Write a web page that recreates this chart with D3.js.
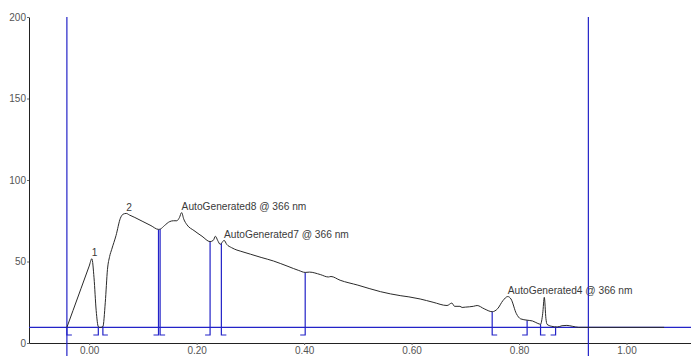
<!DOCTYPE html>
<html>
<head>
<meta charset="utf-8">
<script src="https://cdn.jsdelivr.net/npm/d3@7"></script>
<style>
  body { margin: 0; background: #fff; }
  svg { display: block; font-family: "Liberation Sans", Arial, sans-serif; }
</style>
</head>
<body>
<div id="chart"></div>
<script>
// trace (retention time in min, absorbance)
const traceTime = [-0.0415, -0.030, -0.015, 0.000, 0.005, 0.009, 0.013, 0.017, 0.020, 0.0255,
  0.030, 0.034, 0.038, 0.042, 0.050, 0.058, 0.063, 0.069, 0.075, 0.085,
  0.100, 0.115, 0.129, 0.133, 0.140, 0.150, 0.157, 0.163, 0.168, 0.172,
  0.176, 0.182, 0.195, 0.210, 0.225, 0.231, 0.235, 0.239, 0.244, 0.248,
  0.251, 0.256, 0.265, 0.275, 0.281, 0.290, 0.300, 0.320, 0.343, 0.370,
  0.390, 0.402, 0.410, 0.430, 0.445, 0.450, 0.467, 0.500, 0.542, 0.580,
  0.595, 0.616, 0.640, 0.666, 0.675, 0.680, 0.690, 0.694, 0.700, 0.715,
  0.722, 0.735, 0.750, 0.760, 0.770, 0.779, 0.785, 0.795, 0.803, 0.815,
  0.825, 0.835, 0.840, 0.844, 0.847, 0.850, 0.852, 0.860, 0.871, 0.880,
  0.889, 0.900, 0.911, 1.070];
const traceValue = [9.6, 20.0, 33.6, 47.2, 51.7, 40, 20, 10, 9.5, 10,
  25, 45, 53, 57.5, 66, 76.5, 79, 79.5, 78.5, 77,
  74.5, 72, 69.7, 70, 72, 74.5, 75, 75, 77, 80,
  76, 72.5, 69, 65.5, 62.2, 63, 65.5, 63, 60.5, 62,
  63, 60.5, 58.5, 57, 56.4, 55.5, 54.5, 52.5, 50.3, 47,
  44.5, 43.3, 43.5, 42, 40.5, 40.8, 38.5, 35.5, 31.5, 29,
  28.3, 27, 25, 23, 24.5, 22.5, 22.5, 21.8, 22, 22.5,
  23, 21, 19.2, 21, 26, 28.5, 27, 18, 14.8, 14,
  13.5, 12, 11.5, 18, 28, 15, 11.5, 10.3, 9.8, 10.6,
  10.8, 10.2, 9.6, 9.6];

// integration
const peakStart = [-0.0415, 0.0255, 0.132, 0.246, 0.750, 0.840];
const peakEnd = [0.017, 0.129, 0.225, 0.402, 0.815, 0.868];
const peakApex = [0.005, 0.069, 0.172, 0.251, 0.779, 0.847];
const peakNames = ["1", "2", "AutoGenerated8 @ 366 nm", "AutoGenerated7 @ 366 nm", "AutoGenerated4 @ 366 nm", ""];
const baselineValue = 9.6;
const bracketValue = 4.9;
const windowStart = -0.0415;
const windowEnd = 0.929;

const xTicks = [0, 0.2, 0.4, 0.6, 0.8, 1.0];
const yTicks = [0, 50, 100, 150, 200];

const W = 691, H = 356;
const margin = { top: 17, right: 0, bottom: 13, left: 29 };

const svg = d3.select("#chart").append("svg")
  .attr("width", W)
  .attr("height", H);

const x = d3.scaleLinear().domain([-0.112, 1.12]).range([margin.left, W - margin.right]);
const y = d3.scaleLinear().domain([0, 200]).range([H - margin.bottom, margin.top]);

const blue = "#2323c8";
const valueAt = t => {
  const i = d3.bisectLeft(traceTime, t);
  if (i <= 0) return traceValue[0];
  if (i >= traceTime.length) return traceValue[traceValue.length - 1];
  const t0 = traceTime[i - 1], t1 = traceTime[i];
  const k = (t - t0) / (t1 - t0);
  return traceValue[i - 1] + k * (traceValue[i] - traceValue[i - 1]);
};

// axes
const xAxis = svg.append("g")
  .attr("transform", `translate(0,${y(0)})`)
  .call(d3.axisBottom(x).tickValues(xTicks).tickFormat(d3.format(".2f")).tickSize(2).tickPadding(2).tickSizeOuter(0));
const yAxis = svg.append("g")
  .attr("transform", `translate(${margin.left},0)`)
  .call(d3.axisLeft(y).tickValues(yTicks).tickSize(2).tickPadding(1).tickSizeOuter(0));
[xAxis, yAxis].forEach(g => {
  g.select(".domain").attr("stroke", "#222");
  g.selectAll(".tick line").attr("stroke", "#666");
  g.selectAll("text").attr("fill", "#555").attr("font-size", "10px").attr("font-family", "Liberation Sans, Arial, sans-serif");
});

// peak labels (under trace)
svg.append("g").selectAll("text")
  .data(peakNames.map((n, i) => ({ n, t: peakApex[i] })).filter(d => d.n))
  .enter().append("text")
  .attr("x", d => x(d.t))
  .attr("y", d => y(valueAt(d.t)) - 2.5)
  .attr("font-size", "10.2px")
  .attr("fill", "#3a3a3a")
  .text(d => d.n);

// baseline
svg.append("line")
  .attr("x1", margin.left).attr("x2", W)
  .attr("y1", y(baselineValue)).attr("y2", y(baselineValue))
  .attr("stroke", blue).attr("stroke-width", 1.2);

// window lines
svg.selectAll(".win")
  .data([windowStart, windowEnd])
  .enter().append("line")
  .attr("x1", d => x(d)).attr("x2", d => x(d))
  .attr("y1", y(200)).attr("y2", H)
  .attr("stroke", blue).attr("stroke-width", 1.2);

// drop lines with brackets
const drops = [];
peakStart.forEach(t => drops.push({ t, dir: 1 }));
peakEnd.forEach(t => drops.push({ t, dir: -1 }));
const dropG = svg.append("g").attr("stroke", blue).attr("fill", "none").attr("stroke-width", 1.2);
dropG.selectAll("path")
  .data(drops)
  .enter().append("path")
  .attr("d", d => {
    const px = x(d.t);
    return `M${px},${y(valueAt(d.t))}V${y(bracketValue)}h${d.dir * 5}`;
  });

// trace
const line = d3.line().x(d => x(d[0])).y(d => y(d[1])).curve(d3.curveMonotoneX);
svg.append("path")
  .datum(traceTime.map((t, i) => [t, traceValue[i]]))
  .attr("d", line)
  .attr("fill", "none")
  .attr("stroke", "#2a2a2a")
  .attr("stroke-width", 1);
</script>
</body>
</html>
